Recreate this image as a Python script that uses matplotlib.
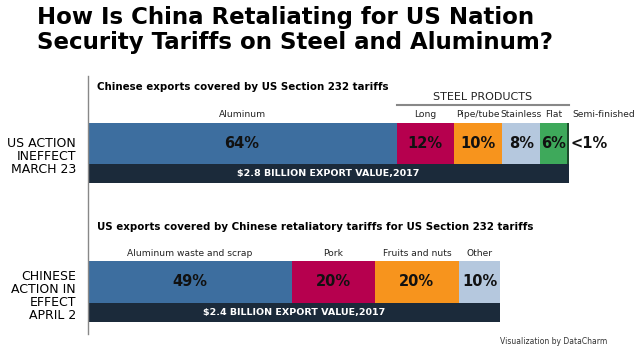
import matplotlib.pyplot as plt

# Chinese exports covered by US Section 232 tariffs (share of export value, %)
us_categories = ["Aluminum", "Long", "Pipe/tube", "Stainless", "Flat", "Semi-finished"]
us_shares = [64.5, 12, 10, 8, 5.5, 0.5]
us_labels = ["64%", "12%", "10%", "8%", "6%", "<1%"]
us_total = 2.8  # billion USD, 2017

# US exports covered by Chinese retaliatory tariffs (%)
cn_categories = ["Aluminum waste and scrap", "Pork", "Fruits and nuts", "Other"]
cn_shares = [49, 20, 20, 10]
cn_labels = ["49%", "20%", "20%", "10%"]
cn_total = 2.4

us_colors = ["#3d6e9f", "#b6004e", "#f7941d", "#b5c8de", "#3ea95b", "#1d4a2c"]
cn_colors = ["#3d6e9f", "#b6004e", "#f7941d", "#b5c8de"]
navy = "#1b2a3a"

W, H = 640, 360
fig = plt.figure(figsize=(6.4, 3.6), dpi=100)
x0 = 87.5
px_per_b = 172.0
ax = fig.add_axes([x0 / W, 0, (W - x0) / W, 1])
ax.set_xlim(0, (W - x0) / px_per_b)
ax.set_ylim(H, 0)
ax.axis('off')


def draw_stack(shares, total, colors, labels, cats, top, bar_h, band_h, band_text):
    widths = [s / sum(shares) * total for s in shares]
    lefts = [sum(widths[:i]) for i in range(len(widths))]
    ax.barh(top + bar_h / 2, widths, left=lefts, height=bar_h, color=colors, edgecolor='none')
    ax.barh(top + bar_h + band_h / 2, sum(widths), left=0, height=band_h, color=navy, edgecolor='none')
    ax.text(sum(widths) / 2, top + bar_h + band_h / 2, band_text, color='white',
            fontsize=6.8, fontweight='bold', ha='center', va='center')
    for i, (l, w) in enumerate(zip(lefts, widths)):
        if cats[i] == "Semi-finished":
            ax.text(l + w + 0.01, top + bar_h / 2, labels[i], fontsize=10.5, fontweight='bold',
                    ha='left', va='center', color='#111111')
            ax.text(l + w + 0.2, top - 8, cats[i], fontsize=6.6, ha='center', va='center', color='#222222')
            continue
        ax.text(l + w / 2, top + bar_h / 2, labels[i], fontsize=10.5, fontweight='bold',
                ha='center', va='center', color='#111111')
        ax.text(l + w / 2, top - 8, cats[i], fontsize=6.6, ha='center', va='center', color='#222222')
    return lefts, widths


lefts, widths = draw_stack(us_shares, us_total, us_colors, us_labels, us_categories,
                           122.5, 41.5, 19, "\\$2.8 BILLION EXPORT VALUE,2017")
draw_stack(cn_shares, cn_total, cn_colors, cn_labels, cn_categories,
           261, 41.5, 19, "\\$2.4 BILLION EXPORT VALUE,2017")

# steel products bracket
steel_start = lefts[1]
steel_end = sum(widths)
ax.plot([steel_start, steel_end], [105, 105], color='#888888', lw=1.5)
ax.text((steel_start + steel_end) / 2, 97, "STEEL PRODUCTS", fontsize=8, ha='center', va='center', color='#222222')

# vertical axis line
ax.plot([0, 0], [76, 334], color='#888888', lw=1, clip_on=False)

fig.text(37 / W, 1 - 6 / H, "How Is China Retaliating for US Nation\nSecurity Tariffs on Steel and Aluminum?",
         fontsize=16.5, fontweight='bold', ha='left', va='top', linespacing=1.12)
fig.text(97 / W, 1 - 87 / H, "Chinese exports covered by US Section 232 tariffs",
         fontsize=7.4, fontweight='bold', ha='left', va='center')
fig.text(97 / W, 1 - 227 / H, "US exports covered by Chinese retaliatory tariffs for US Section 232 tariffs",
         fontsize=7.4, fontweight='bold', ha='left', va='center')
fig.text(76 / W, 1 - 156.5 / H, "US ACTION\nINEFFECT\nMARCH 23", fontsize=9, ha='right', va='center',
         linespacing=1.0)
fig.text(76 / W, 1 - 296 / H, "CHINESE\nACTION IN\nEFFECT\nAPRIL 2", fontsize=9, ha='right', va='center',
         linespacing=1.0)
fig.text(607 / W, 1 - 341 / H, "Visualization by DataCharm", fontsize=5.5, ha='right', va='center',
         color='#333333')

fig.savefig('out.png', dpi=100)
